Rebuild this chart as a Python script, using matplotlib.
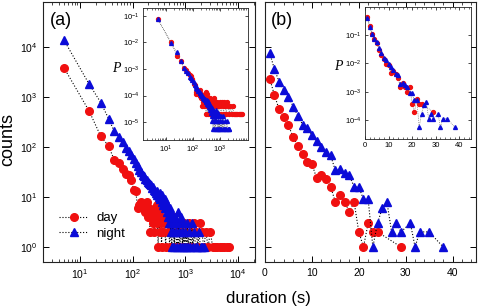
import numpy as np
import matplotlib.pyplot as plt
from matplotlib.ticker import LogLocator, MultipleLocator, NullLocator, NullFormatter

plt.rcParams['font.family'] = ['Liberation Sans', 'DejaVu Sans']
plt.rcParams['mathtext.fontset'] = 'custom'
plt.rcParams['mathtext.rm'] = 'Liberation Sans'
plt.rcParams['mathtext.it'] = 'Liberation Sans:italic'
plt.rcParams['mathtext.default'] = 'regular'

# (a) durations binned in 10 s bins, counts per bin
day_a_x = [5, 15, 25, 35, 45, 55, 65, 75, 85, 95, 105, 115, 125, 135, 145, 155, 165,
           175, 185, 195, 205, 215, 225, 235, 245, 255, 265, 275, 285, 295, 305, 315,
           325, 335, 345, 355, 365, 385, 405, 425, 445, 465, 485, 505, 535, 565, 595,
           625, 665, 705, 745, 795, 845, 905, 965, 1035, 1105, 1185, 1275, 1365, 1475,
           1595, 1735, 1885, 2055, 2245, 2455, 2705, 2985, 3305, 3655, 4045, 4475,
           4955, 5505, 6105, 6705]
day_a_n = [3860, 525, 163, 105, 55, 47, 36, 29, 27, 22, 14, 13, 6, 7, 8, 6, 7,
           5, 8, 4, 6, 2, 5, 4, 3, 2, 5, 6, 3, 7, 1, 4,
           2, 6, 3, 1, 4, 2, 3, 1, 4, 2, 3, 1, 3, 2, 4,
           1, 3, 2, 1, 3, 2, 1, 3, 2, 1, 3, 2, 1, 3,
           2, 1, 3, 2, 1, 2, 1, 2, 1, 1, 1, 1,
           1, 1, 1, 1]

night_a_x = [5, 15, 25, 35, 45, 55, 65, 75, 85, 95, 105, 115, 125, 135, 145, 155, 165,
             175, 185, 195, 205, 215, 225, 235, 245, 255, 265, 275, 285, 295, 305, 315,
             325, 335, 345, 355, 365, 375, 385, 395, 405, 415, 425, 435, 445, 455, 465,
             475, 485, 495, 505, 515, 525, 535, 545, 555, 565, 585, 595, 615, 635, 655,
             675, 695, 715, 745, 765, 795, 825, 855, 885, 915, 955, 995, 1035, 1085,
             1135, 1195, 1255, 1325, 1405, 1485, 1575, 1685, 1805, 1945, 2105, 2255]
night_a_n = [13800, 1820, 776, 372, 205, 160, 125, 95, 82, 70, 57, 47, 42, 35, 31, 28, 26,
             23, 22, 20, 19, 18, 17, 15, 16, 14, 13, 12, 13, 11, 11, 10,
             12, 9, 10, 11, 8, 9, 7, 8, 9, 6, 7, 8, 5, 7, 4,
             6, 5, 3, 6, 4, 2, 5, 3, 1, 4, 2, 3, 1, 4, 2,
             3, 1, 5, 2, 3, 1, 4, 2, 1, 3, 1, 2, 1, 3,
             1, 2, 1, 3, 1, 2, 1, 1, 2, 1, 1, 1]

# (b)
day_b_x = [1, 2, 3, 4, 5, 6, 7, 8, 9, 10, 11, 12, 13, 14, 15, 16, 17, 18, 19, 20,
           21, 22, 23, 24, 29]
day_b_n = [2350, 1100, 570, 400, 270, 158, 105, 74, 51, 46, 24, 28, 23, 16, 8, 11, 8,
           5, 8, 2, 1, 3, 2, 2, 1]

night_b_x = [1, 2, 3, 4, 5, 6, 7, 8, 9, 10, 11, 12, 13, 14, 15, 16, 17, 18, 19, 20,
             21, 22, 23, 24, 25, 26, 27, 28, 29, 31, 32, 33, 35, 38]
night_b_n = [7690, 3630, 2040, 1380, 1023, 646, 427, 282, 245, 174, 132, 102, 78, 68,
             34, 37, 30, 27, 16, 16, 9, 9, 1, 3, 6, 8, 2, 3, 2, 3, 1, 2, 2, 1]

W, H = 478, 308
fig = plt.figure(figsize=(W / 100, H / 100), dpi=100)
ax_a = fig.add_axes([43 / W, 46 / H, 212 / W, 260 / H])
ax_b = fig.add_axes([265 / W, 46 / H, 211 / W, 260 / H])
ins_a = fig.add_axes([143 / W, 168 / H, 105 / W, 132 / H])
ins_b = fig.add_axes([365 / W, 169 / H, 106 / W, 132 / H])

red = '#f01010'
blue = '#0b0bd8'
big = dict(ls=':', color='k', lw=0.8)
small = dict(ls=':', color='#555555', lw=0.5)

# main panels
ax_a.plot(day_a_x, day_a_n, marker='o', ms=5.5, mfc=red, mec=red, label='day', **big)
ax_a.plot(night_a_x, night_a_n, marker='^', ms=5.5, mfc=blue, mec=blue, label='night', **big)
ax_b.plot(day_b_x, day_b_n, marker='o', ms=5.5, mfc=red, mec=red, **big)
ax_b.plot(night_b_x, night_b_n, marker='^', ms=5.5, mfc=blue, mec=blue, **big)

# insets: normalised distributions
p_day_a = np.array(day_a_n) / (np.sum(day_a_n) * 10)
p_night_a = np.array(night_a_n) / (np.sum(night_a_n) * 10)
p_day_b = np.array(day_b_n) / np.sum(day_b_n)
p_night_b = np.array(night_b_n) / np.sum(night_b_n)
ins_a.plot(day_a_x, p_day_a, marker='o', ms=2.8, mfc=red, mec=red, **small)
ins_a.plot(night_a_x, p_night_a, marker='^', ms=2.8, mfc=blue, mec=blue, **small)
ins_b.plot(day_b_x, p_day_b, marker='o', ms=2.8, mfc=red, mec=red, **small)
ins_b.plot(night_b_x, p_night_b, marker='^', ms=2.8, mfc=blue, mec=blue, **small)

for ax in [ax_a, ax_b, ins_a, ins_b]:
    ax.set_yscale('log')
    ax.yaxis.set_minor_locator(NullLocator())
    for s in ax.spines.values():
        s.set_linewidth(0.8)
        s.set_color('#222222')

ax_a.set_xscale('log')
ax_a.set_xlim(2, 2.1e4)
ax_a.set_ylim(0.5, 8e4)
ax_a.set_xticks([10, 100, 1000, 10000])
ax_a.xaxis.set_minor_locator(LogLocator(base=10, subs=np.arange(2, 10), numticks=20))
ax_a.xaxis.set_minor_formatter(NullFormatter())
ax_a.set_yticks([1, 10, 100, 1000, 10000])

ax_b.set_xlim(0, 45)
ax_b.set_ylim(0.5, 8e4)
ax_b.set_xticks([0, 10, 20, 30, 40])
ax_b.xaxis.set_minor_locator(MultipleLocator(2))
ax_b.set_yticks([1, 10, 100, 1000, 10000])
ax_b.set_yticklabels([])

for ax in [ax_a, ax_b]:
    ax.tick_params(which='both', direction='in', top=True, right=True, labelsize=7.5, pad=4)
    ax.tick_params(which='major', length=4, width=0.7)
    ax.tick_params(which='minor', length=2, width=0.5)

ins_a.set_xscale('log')
ins_a.set_xlim(1.4, 1.1e4)
ins_a.set_ylim(2.1e-6, 0.2)
ins_a.set_xticks([10, 100, 1000])
ins_a.xaxis.set_minor_locator(LogLocator(base=10, subs=np.arange(2, 10), numticks=20))
ins_a.xaxis.set_minor_formatter(NullFormatter())
ins_a.set_yticks([1e-1, 1e-2, 1e-3, 1e-4, 1e-5])

ins_b.set_xlim(0, 45)
ins_b.set_ylim(2.1e-5, 1)
ins_b.set_xticks([0, 10, 20, 30, 40])
ins_b.xaxis.set_minor_locator(MultipleLocator(2))
ins_b.set_yticks([1e-1, 1e-2, 1e-3, 1e-4])

for ax in [ins_a, ins_b]:
    ax.tick_params(which='both', direction='in', top=True, right=True, labelsize=5.5, pad=2.5)
    ax.tick_params(which='major', length=2.5, width=0.5)
    ax.tick_params(which='minor', length=1.2, width=0.4)
    for s in ax.spines.values():
        s.set_linewidth(0.6)

fig.text(116 / W, 1 - 68 / H, 'P', family='Liberation Serif', style='italic',
         fontsize=10, ha='center', va='center')
fig.text(338 / W, 1 - 67 / H, 'P', family='Liberation Serif', style='italic',
         fontsize=10, ha='center', va='center')

ax_a.text(0.085, 0.93, '(a)', transform=ax_a.transAxes, fontsize=13, ha='center', va='center')
ax_b.text(0.08, 0.93, '(b)', transform=ax_b.transAxes, fontsize=13, ha='center', va='center')

leg = ax_a.legend(loc='lower left', bbox_to_anchor=(0.02, 0.04), frameon=False, fontsize=9.5,
                  handlelength=2.2, handletextpad=0.6, labelspacing=0.25, numpoints=1)

fig.text(8 / W, 1 - 140 / H, 'counts', rotation=90, fontsize=13, ha='center', va='center')
fig.text(268 / W, 1 - 299 / H, 'duration (s)', fontsize=12, ha='center', va='center')

fig.savefig('out.png', dpi=100)
